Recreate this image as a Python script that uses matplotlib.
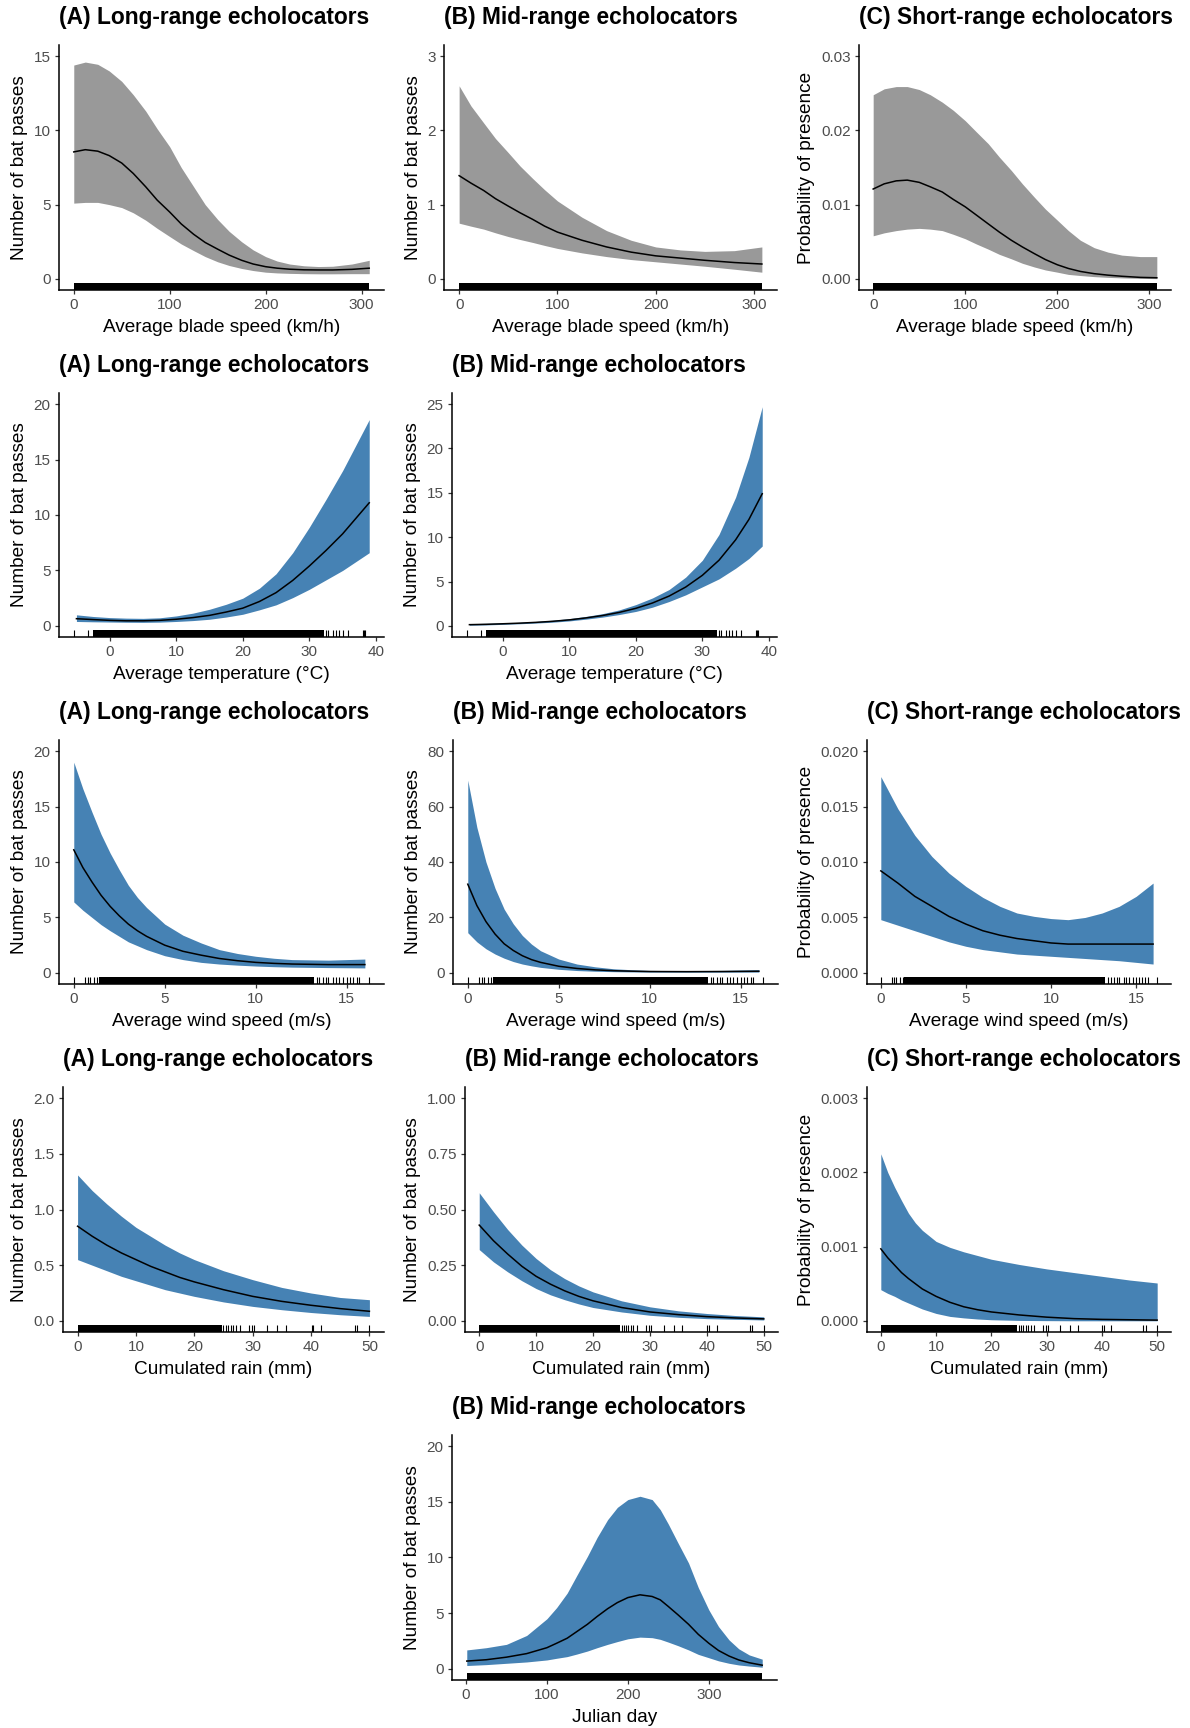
import numpy as np
import matplotlib
matplotlib.use('Agg')
import matplotlib.pyplot as plt
from matplotlib.ticker import FormatStrFormatter

plt.rcParams['font.family'] = ['Liberation Sans', 'DejaVu Sans']

GREY_FILL = '#999999'
BLUE_FILL = '#4682B4'

TITLE_A = '(A) Long-range echolocators'
TITLE_B = '(B) Mid-range echolocators'
TITLE_C = '(C) Short-range echolocators'
YLAB_N = 'Number of bat passes'
YLAB_P = 'Probability of presence'

# ---- blade speed (km/h)
blade_x = [0, 12, 25, 37, 50, 62, 75, 87, 100, 112, 125, 137, 150, 162, 175, 187, 200, 212, 225, 240, 255, 270,
           290, 308]
blade_long_fit = [8.55, 8.7, 8.6, 8.3, 7.8, 7.1, 6.2, 5.3, 4.5, 3.7, 3.0, 2.45, 2.0, 1.6, 1.25, 1.0, 0.82, 0.72,
                  0.65, 0.61, 0.6, 0.6, 0.64, 0.72]
blade_long_lo = [5.1, 5.15, 5.15, 5.0, 4.8, 4.45, 3.95, 3.4, 2.85, 2.35, 1.9, 1.5, 1.15, 0.9, 0.7, 0.56, 0.45, 0.4,
                 0.37, 0.35, 0.34, 0.34, 0.35, 0.35]
blade_long_hi = [14.4, 14.6, 14.45, 14.0, 13.3, 12.4, 11.3, 10.1, 8.9, 7.5, 6.2, 5.0, 4.0, 3.2, 2.5, 1.95, 1.5, 1.2,
                 1.0, 0.88, 0.83, 0.85, 1.0, 1.25]
blade_mid_x = [0, 12, 25, 37, 50, 62, 75, 87, 100, 125, 150, 175, 200, 225, 250, 280, 308]
blade_mid_fit = [1.39, 1.29, 1.19, 1.08, 0.98, 0.89, 0.8, 0.71, 0.63, 0.52, 0.43, 0.36, 0.31, 0.28, 0.25, 0.22, 0.2]
blade_mid_lo = [0.75, 0.71, 0.67, 0.62, 0.57, 0.53, 0.49, 0.45, 0.41, 0.35, 0.3, 0.26, 0.23, 0.2, 0.17, 0.13, 0.09]
blade_mid_hi = [2.6, 2.33, 2.1, 1.89, 1.7, 1.52, 1.35, 1.2, 1.05, 0.83, 0.65, 0.52, 0.43, 0.39, 0.37, 0.38, 0.43]
blade_short_fit = [0.0121, 0.0128, 0.0132, 0.0133, 0.0130, 0.0124, 0.0117, 0.0107, 0.0097, 0.0086, 0.0074, 0.0063,
                   0.0052, 0.0043, 0.0034, 0.0026, 0.0019, 0.0014, 0.001, 0.0007, 0.0005, 0.00035, 0.0002, 0.00015]
blade_short_lo = [0.0058, 0.0062, 0.0065, 0.0067, 0.0068, 0.0067, 0.0065, 0.006, 0.0054, 0.0047, 0.004, 0.0033,
                  0.0027, 0.0021, 0.0016, 0.0012, 0.0009, 0.0006, 0.00045, 0.0003, 0.0002, 0.00013, 0.00007, 0.00003]
blade_short_hi = [0.0248, 0.0256, 0.0259, 0.0259, 0.0255, 0.0248, 0.0238, 0.0227, 0.0213, 0.0198, 0.0182, 0.0164,
                  0.0146, 0.0128, 0.011, 0.0094, 0.0079, 0.0065, 0.0052, 0.0042, 0.0036, 0.0032, 0.003, 0.003]
blade_rug_spans = [(0, 308)]
blade_rug_ticks = []

# ---- temperature (°C)
temp_x = [-5, -2.5, 0, 2.5, 5, 7.5, 10, 12.5, 15, 17.5, 20, 22.5, 25, 27.5, 30, 32.5, 35, 37, 39]
temp_long_fit = [0.65, 0.57, 0.5, 0.46, 0.46, 0.5, 0.6, 0.75, 0.95, 1.25, 1.6, 2.2, 3.0, 4.1, 5.4, 6.8, 8.3, 9.7,
                 11.1]
temp_long_lo = [0.4, 0.37, 0.35, 0.33, 0.32, 0.34, 0.4, 0.48, 0.6, 0.8, 1.05, 1.45, 1.9, 2.55, 3.3, 4.15, 5.0, 5.8,
                6.6]
temp_long_hi = [1.0, 0.85, 0.75, 0.7, 0.68, 0.73, 0.9, 1.15, 1.5, 1.95, 2.5, 3.4, 4.7, 6.6, 8.9, 11.4, 14.0, 16.3,
                18.6]
temp_mid_fit = [0.14, 0.18, 0.24, 0.31, 0.4, 0.52, 0.68, 0.9, 1.17, 1.52, 1.98, 2.58, 3.36, 4.38, 5.7, 7.4, 9.7,
                12.0, 14.9]
temp_mid_lo = [0.08, 0.11, 0.175, 0.24, 0.32, 0.42, 0.56, 0.76, 0.99, 1.28, 1.63, 2.11, 2.75, 3.5, 4.4, 5.3, 6.5,
               7.6, 9.0]
temp_mid_hi = [0.25, 0.29, 0.33, 0.4, 0.5, 0.64, 0.82, 1.07, 1.38, 1.8, 2.4, 3.15, 4.1, 5.5, 7.4, 10.3, 14.5, 19.0,
               24.7]
temp_rug_spans = [(-2.45, 32.2)]
temp_rug_ticks = [-5.4, -3.2, 32.5, 32.85, 33.6, 34.0, 34.5, 35.0, 35.75, 38.0, 38.2, 38.4]

# ---- wind speed (m/s)
wind_x = [0, 0.5, 1, 1.5, 2, 2.5, 3, 3.5, 4, 5, 6, 7, 8, 9, 10, 11, 12, 14, 16]
wind_long_fit = [11.1, 9.5, 8.2, 7.0, 6.0, 5.15, 4.4, 3.8, 3.3, 2.5, 1.95, 1.6, 1.3, 1.1, 0.95, 0.86, 0.8, 0.75,
                 0.75]
wind_long_lo = [6.4, 5.65, 5.0, 4.35, 3.8, 3.3, 2.8, 2.45, 2.1, 1.55, 1.2, 0.95, 0.8, 0.7, 0.62, 0.56, 0.52, 0.48,
                0.45]
wind_long_hi = [19.0, 16.6, 14.5, 12.5, 10.8, 9.3, 7.9, 6.8, 5.9, 4.4, 3.4, 2.7, 2.1, 1.75, 1.5, 1.32, 1.2, 1.15,
                1.25]
wind_mid_x = [0, 0.5, 1, 1.5, 2, 2.5, 3, 3.5, 4, 5, 6, 7, 8, 9, 10, 12, 14, 16]
wind_mid_fit = [32.0, 24.3, 18.5, 14.0, 10.5, 8.1, 6.2, 4.8, 3.8, 2.4, 1.6, 1.1, 0.8, 0.62, 0.5, 0.45, 0.5, 0.6]
wind_mid_lo = [14.5, 11.2, 8.7, 6.8, 5.3, 4.1, 3.2, 2.55, 2.0, 1.3, 0.85, 0.6, 0.45, 0.36, 0.3, 0.28, 0.28, 0.3]
wind_mid_hi = [69.5, 52.5, 40.0, 30.5, 23.0, 17.7, 13.5, 10.4, 8.0, 5.0, 3.2, 2.2, 1.5, 1.15, 0.9, 0.8, 0.9, 1.2]
wind_short_x = [0, 1, 2, 3, 4, 5, 6, 7, 8, 9, 10, 11, 12, 13, 14, 15, 16]
wind_short_fit = [0.0092, 0.0081, 0.0069, 0.006, 0.0051, 0.0044, 0.0038, 0.0034, 0.0031, 0.0029, 0.0027, 0.0026,
                  0.0026, 0.0026, 0.0026, 0.0026, 0.0026]
wind_short_lo = [0.0048, 0.0043, 0.0038, 0.0033, 0.0028, 0.0024, 0.0021, 0.0019, 0.0017, 0.0016, 0.0015, 0.0014,
                 0.0013, 0.0012, 0.0011, 0.00095, 0.0008]
wind_short_hi = [0.0177, 0.0148, 0.0124, 0.0105, 0.009, 0.0078, 0.0068, 0.006, 0.0054, 0.0051, 0.0049, 0.0048,
                 0.005, 0.0054, 0.006, 0.0069, 0.0081]
wind_rug_spans = [(1.37, 13.2)]
wind_rug_ticks = [0, 0.64, 0.77, 0.9, 1.1, 1.28, 13.35, 13.5, 13.7, 13.85, 14.0, 14.27, 14.4, 14.6, 14.8, 15.0, 15.2,
                  15.35, 15.55, 15.7, 16.24]

# ---- cumulated rain (mm)
rain_x = [0, 2.5, 5, 7.5, 10, 12.5, 15, 17.5, 20, 25, 30, 35, 40, 45, 50]
rain_long_fit = [0.85, 0.76, 0.68, 0.61, 0.55, 0.49, 0.44, 0.39, 0.35, 0.28, 0.22, 0.175, 0.14, 0.11, 0.086]
rain_long_lo = [0.55, 0.5, 0.45, 0.4, 0.36, 0.32, 0.28, 0.25, 0.22, 0.17, 0.13, 0.1, 0.075, 0.055, 0.04]
rain_long_hi = [1.31, 1.17, 1.05, 0.94, 0.84, 0.76, 0.68, 0.61, 0.55, 0.45, 0.37, 0.3, 0.25, 0.21, 0.19]
rain_mid_fit = [0.43, 0.36, 0.3, 0.245, 0.2, 0.165, 0.135, 0.11, 0.09, 0.06, 0.04, 0.028, 0.019, 0.013, 0.009]
rain_mid_lo = [0.32, 0.265, 0.22, 0.18, 0.145, 0.117, 0.095, 0.076, 0.06, 0.04, 0.025, 0.016, 0.01, 0.007, 0.004]
rain_mid_hi = [0.575, 0.49, 0.41, 0.34, 0.28, 0.23, 0.19, 0.157, 0.13, 0.09, 0.063, 0.045, 0.033, 0.024, 0.018]
rain_short_x = [0, 1.25, 2.5, 3.75, 5, 6.25, 7.5, 10, 12.5, 15, 17.5, 20, 25, 30, 35, 40, 45, 50]
rain_short_fit = [0.00097, 0.00085, 0.00075, 0.00065, 0.00057, 0.0005, 0.00043, 0.00033, 0.00025, 0.00019,
                  0.00015, 0.00012, 0.00008, 0.00005, 0.00003, 0.00002, 0.000015, 0.00001]
rain_short_lo = [0.00042, 0.00037, 0.00033, 0.00028, 0.00024, 0.0002, 0.00016, 0.0001, 0.00006, 0.00004,
                 0.000025, 0.000015, 0.000006, 0.000003, 0.000001, 0.000001, 0.000001, 0.000001]
rain_short_hi = [0.00225, 0.002, 0.0018, 0.00162, 0.00145, 0.00132, 0.00122, 0.00107, 0.00099, 0.00093, 0.00088,
                 0.00083, 0.00076, 0.0007, 0.00065, 0.0006, 0.00055, 0.00051]
rain_rug_spans = [(0, 24.7)]
rain_rug_ticks = [25.0, 25.4, 25.8, 26.2, 26.7, 27.1, 27.8, 29.3, 29.9, 30.2, 32.4, 34.2, 35.7, 40.1, 40.4, 41.7,
                  47.5, 47.9, 50.0]

# ---- julian day
day_x = [1, 25, 50, 75, 100, 112, 125, 137, 150, 162, 175, 187, 200, 215, 230, 240, 250, 262, 275, 287, 300, 312,
         325, 337, 350, 366]
day_mid_fit = [0.7, 0.82, 1.05, 1.37, 1.9, 2.3, 2.75, 3.35, 4.0, 4.7, 5.4, 5.95, 6.4, 6.65, 6.5, 6.2, 5.6, 4.85,
               4.0, 3.1, 2.3, 1.65, 1.15, 0.8, 0.55, 0.33]
day_mid_lo = [0.3, 0.38, 0.5, 0.62, 0.8, 0.95, 1.1, 1.33, 1.6, 1.9, 2.2, 2.45, 2.7, 2.85, 2.8, 2.65, 2.4, 2.08,
              1.7, 1.3, 1.0, 0.72, 0.5, 0.35, 0.25, 0.15]
day_mid_hi = [1.7, 1.9, 2.2, 3.0, 4.5, 5.5, 6.8, 8.4, 10.1, 11.8, 13.4, 14.5, 15.2, 15.5, 15.2, 14.3, 13.0, 11.3,
              9.5, 7.3, 5.3, 3.8, 2.6, 1.8, 1.25, 0.87]
day_rug_spans = [(1, 366)]
day_rug_ticks = []

W, H = 1190, 1728
fig = plt.figure(figsize=(W / 100, H / 100), dpi=100)


def add_ax(left, top, right, bottom):
    return fig.add_axes([left / W, 1 - bottom / H, (right - left) / W, (bottom - top) / H])


def draw_panel(box, title, x, fit, lo, hi, fill, rug_spans, rug_ticks, xticks, xlabel,
               yticks, ylabel, yfmt):
    ax = add_ax(*box)
    ax.fill_between(x, lo, hi, color=fill, lw=0)
    ax.plot(x, fit, color='black', lw=1.1)
    for a, b in rug_spans:
        ax.axvspan(a, b, ymin=0, ymax=0.03, color='black', lw=0)
    if rug_ticks:
        ax.vlines(rug_ticks, 0, 0.03, transform=ax.get_xaxis_transform(), color='black', lw=0.8)

    xs = list(x) + [v for s in rug_spans for v in s] + list(rug_ticks)
    x0, x1 = min(xs), max(xs)
    dx = 0.05 * (x1 - x0)
    ax.set_xlim(x0 - dx, x1 + dx)
    ytop = yticks[-1]
    ax.set_ylim(-0.05 * ytop, 1.05 * ytop)

    ax.set_xticks(xticks)
    ax.set_yticks(yticks)
    ax.yaxis.set_major_formatter(FormatStrFormatter(yfmt))
    ax.spines['top'].set_visible(False)
    ax.spines['right'].set_visible(False)
    for s in ('left', 'bottom'):
        ax.spines[s].set_linewidth(1.1)
    ax.tick_params(direction='out', length=3, width=0.9, color='#333333', labelcolor='#4D4D4D',
                   labelsize=11, pad=3)
    ax.set_xlabel(xlabel, fontsize=13.7, labelpad=5)
    ax.set_ylabel(ylabel, fontsize=13.7, labelpad=4)
    ax.set_title(title, loc='left', fontsize=16.4, fontweight='bold', pad=15)
    return ax


BLADE_T = [0, 100, 200, 300]
TEMP_T = [0, 10, 20, 30, 40]
WIND_T = [0, 5, 10, 15]
RAIN_T = [0, 10, 20, 30, 40, 50]

# row 1 : blade speed
draw_panel((59, 45, 384, 290), TITLE_A, blade_x, blade_long_fit, blade_long_lo, blade_long_hi, GREY_FILL,
           blade_rug_spans, blade_rug_ticks, BLADE_T, 'Average blade speed (km/h)',
           [0, 5, 10, 15], YLAB_N, '%d')
draw_panel((444, 45, 777, 290), TITLE_B, blade_mid_x, blade_mid_fit, blade_mid_lo, blade_mid_hi, GREY_FILL,
           blade_rug_spans, blade_rug_ticks, BLADE_T, 'Average blade speed (km/h)',
           [0, 1, 2, 3], YLAB_N, '%d')
draw_panel((859, 45, 1171, 290), TITLE_C, blade_x, blade_short_fit, blade_short_lo, blade_short_hi, GREY_FILL,
           blade_rug_spans, blade_rug_ticks, BLADE_T, 'Average blade speed (km/h)',
           [0, 0.01, 0.02, 0.03], YLAB_P, '%.2f')

# row 2 : temperature
draw_panel((59, 393, 384, 637), TITLE_A, temp_x, temp_long_fit, temp_long_lo, temp_long_hi, BLUE_FILL,
           temp_rug_spans, temp_rug_ticks, TEMP_T, 'Average temperature (°C)',
           [0, 5, 10, 15, 20], YLAB_N, '%d')
draw_panel((452, 393, 777, 637), TITLE_B, temp_x, temp_mid_fit, temp_mid_lo, temp_mid_hi, BLUE_FILL,
           temp_rug_spans, temp_rug_ticks, TEMP_T, 'Average temperature (°C)',
           [0, 5, 10, 15, 20, 25], YLAB_N, '%d')

# row 3 : wind speed
draw_panel((59, 740, 384, 984), TITLE_A, wind_x, wind_long_fit, wind_long_lo, wind_long_hi, BLUE_FILL,
           wind_rug_spans, wind_rug_ticks, WIND_T, 'Average wind speed (m/s)',
           [0, 5, 10, 15, 20], YLAB_N, '%d')
draw_panel((453, 740, 778, 984), TITLE_B, wind_mid_x, wind_mid_fit, wind_mid_lo, wind_mid_hi, BLUE_FILL,
           wind_rug_spans, wind_rug_ticks, WIND_T, 'Average wind speed (m/s)',
           [0, 20, 40, 60, 80], YLAB_N, '%d')
draw_panel((867, 740, 1171, 984), TITLE_C, wind_short_x, wind_short_fit, wind_short_lo, wind_short_hi, BLUE_FILL,
           wind_rug_spans, wind_rug_ticks, WIND_T, 'Average wind speed (m/s)',
           [0, 0.005, 0.010, 0.015, 0.020], YLAB_P, '%.3f')

# row 4 : rain
draw_panel((63, 1087, 384, 1332), TITLE_A, rain_x, rain_long_fit, rain_long_lo, rain_long_hi, BLUE_FILL,
           rain_rug_spans, rain_rug_ticks, RAIN_T, 'Cumulated rain (mm)',
           [0, 0.5, 1.0, 1.5, 2.0], YLAB_N, '%.1f')
draw_panel((465, 1087, 778, 1332), TITLE_B, rain_x, rain_mid_fit, rain_mid_lo, rain_mid_hi, BLUE_FILL,
           rain_rug_spans, rain_rug_ticks, RAIN_T, 'Cumulated rain (mm)',
           [0, 0.25, 0.5, 0.75, 1.0], YLAB_N, '%.2f')
draw_panel((867, 1087, 1171, 1332), TITLE_C, rain_short_x, rain_short_fit, rain_short_lo, rain_short_hi, BLUE_FILL,
           rain_rug_spans, rain_rug_ticks, RAIN_T, 'Cumulated rain (mm)',
           [0, 0.001, 0.002, 0.003], YLAB_P, '%.3f')

# row 5 : julian day
draw_panel((452, 1435, 777, 1680), TITLE_B, day_x, day_mid_fit, day_mid_lo, day_mid_hi, BLUE_FILL,
           day_rug_spans, day_rug_ticks, [0, 100, 200, 300], 'Julian day',
           [0, 5, 10, 15, 20], YLAB_N, '%d')

fig.savefig('out.png', dpi=100, facecolor='white')
